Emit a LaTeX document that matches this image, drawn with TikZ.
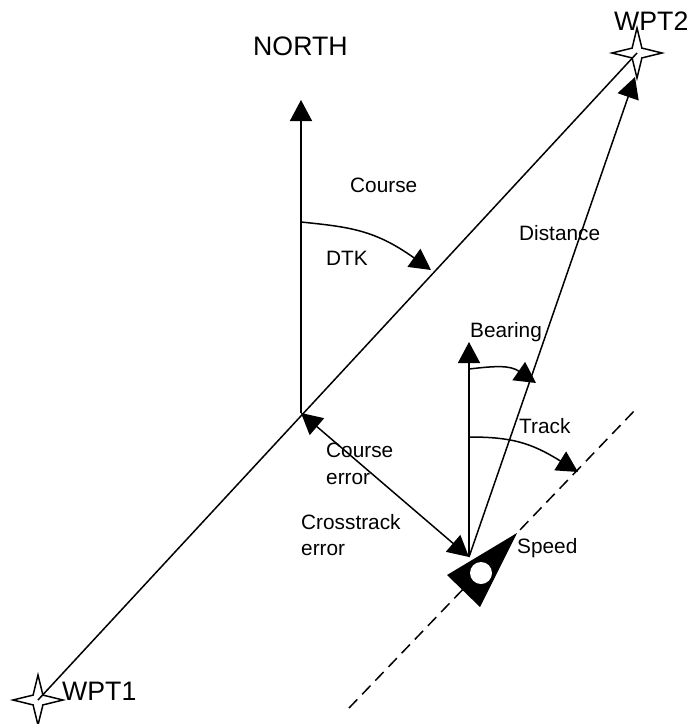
\documentclass[tikz,border=0pt]{standalone}
\usepackage{fontspec}
\setmainfont{Liberation Sans}
\usetikzlibrary{arrows.meta,shapes.geometric}
\tikzset{
  lbl/.style={anchor=base west,inner sep=0pt,font=\fontsize{20.8}{26}\selectfont,text=black},
  lblbig/.style={anchor=base west,inner sep=0pt,font=\fontsize{26.7}{30}\selectfont,text=black},
  twoline/.style={anchor=north west,inner sep=0pt,align=left,font=\fontsize{20.8}{26.5}\selectfont,text=black},
  wpt/.style={star,star points=4,star point ratio=3.6,minimum size=50pt,inner sep=0pt,draw=black,line width=1.5pt},
  conn/.style={draw=black,line width=1.5pt},
  headed/.style={conn,-{Triangle[length=21pt,width=22pt]}},
  dheaded/.style={conn,{Triangle[length=21pt,width=22pt]}-{Triangle[length=21pt,width=22pt]}},
  track/.style={draw=black,line width=1.5pt,dash pattern=on 12pt off 7pt},
  boat/.style={fill=black,draw=none},
  hub/.style={circle,fill=white,draw=none,minimum size=22pt,inner sep=0pt}
}
\begin{document}
\begin{tikzpicture}[x=1pt,y=-1pt]
\useasboundingbox (0,0) rectangle (688,724);
% stars
\node[wpt] (wpt1) at (38,700) {};
\node[wpt] (wpt2) at (637,53) {};
% key points
\coordinate (origin) at (301,413);
\coordinate (northtip) at (301,100);
\coordinate (ship) at (469,557);
\coordinate (shipnorth) at (469,342);
\coordinate (disttip) at (635,77);
\coordinate (dashA) at (349,708);
\coordinate (dashB) at (637,408);
\coordinate (dtkstart) at (301,222);
\coordinate (dtktip) at (431,270);
\coordinate (brgstart) at (469,369);
\coordinate (brgtip) at (536,383);
\coordinate (trkstart) at (469,437);
\coordinate (trktip) at (578,472);
% connectors
\draw[conn] (wpt1.center) -- (wpt2.center);
\draw[headed] (origin) -- (northtip);
\draw[headed] (ship) -- (shipnorth);
\draw[headed] (ship) -- (disttip);
\draw[dheaded] (origin) -- (ship);
\draw[track] (dashA) -- (dashB);
\draw[headed] (dtkstart) .. controls (350,227) and (375,230) .. (dtktip);
\draw[headed] (brgstart) .. controls (495,366) and (510,365) .. (brgtip);
\draw[headed] (trkstart) .. controls (510,437) and (530,442) .. (trktip);
% boat
\path[boat] (517,533) -- (447,575) -- (480,607) -- cycle;
\node[hub] (hubc) at (481,573) {};
% labels
\node[lblbig] (north) at (253,55) {NORTH};
\node[lblbig] (w2) at (614,30) {WPT2};
\node[lblbig] (w1) at (62,700) {WPT1};
\node[lbl] (course) at (350,192) {Course};
\node[lbl] (dtk) at (326,265) {DTK};
\node[lbl] (distance) at (519,240) {Distance};
\node[lbl] (bearing) at (470,337) {Bearing};
\node[lbl] (trk) at (519,433) {Track};
\node[lbl] (speed) at (517,553) {Speed};
\node[twoline] (cerr) at (326,443) {Course\\error};
\node[twoline] (xerr) at (301,514) {Crosstrack\\error};
\end{tikzpicture}
\end{document}
